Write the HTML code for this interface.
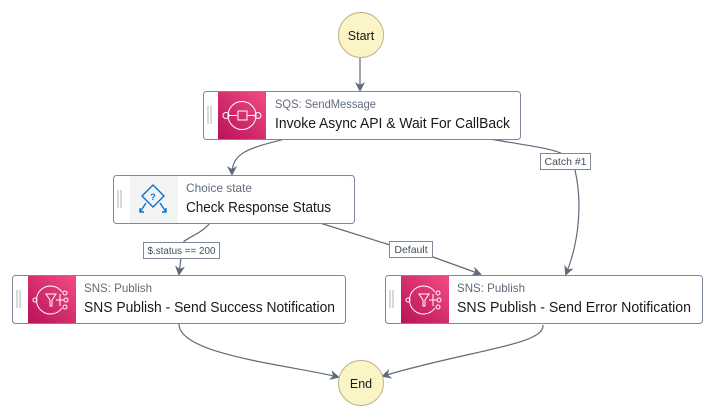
<!DOCTYPE html>
<html><head><meta charset="utf-8"><style>
html,body{margin:0;padding:0;background:#fff;}
svg{display:block;font-family:"Liberation Sans",sans-serif;}
</style></head><body>
<svg width="714" height="416" viewBox="0 0 714 416">
<defs>
<linearGradient id="pk" x1="0" y1="1" x2="1" y2="0">
<stop offset="0" stop-color="#b8125a"/><stop offset="1" stop-color="#f34b82"/>
</linearGradient>
<marker id="ar" markerWidth="10" markerHeight="10" refX="8" refY="5" orient="auto" markerUnits="userSpaceOnUse">
<path d="M0,0 L10,5 L0,10 L3,5 Z" fill="#5f6b7a"/>
</marker>
</defs>
<g fill="none" stroke="#5f6b7a" stroke-width="1.2">
<path d="M360,58 L360,90" marker-end="url(#ar)"/>
<path d="M285,139 C250,148 232,152 232,174" marker-end="url(#ar)"/>
<path d="M490,139 C530,146 550,148 563,154 M575,170 C582,200 580,240 566,274" marker-end="url(#ar)"/>
<path d="M210,223 C200,235 185,238 183,243 M181,258 L179,274" marker-end="url(#ar)"/>
<path d="M320,223 L390,245 M433,257 L480,274" marker-end="url(#ar)"/>
<path d="M179,324 C179,355 290,365 338,377" marker-end="url(#ar)"/>
<path d="M543,325 C545,345 470,350 383,376" marker-end="url(#ar)"/>
</g>
<circle cx="361" cy="35" r="22.5" fill="#fbf4c6" stroke="#bfb38a"/>
<text x="361" y="40" font-size="12.5" text-anchor="middle" fill="#16191f">Start</text>
<circle cx="361" cy="383" r="22.5" fill="#fbf4c6" stroke="#bfb38a"/>
<text x="361" y="388" font-size="12.5" text-anchor="middle" fill="#16191f">End</text>

<rect x="203.5" y="91.5" width="317" height="48" rx="3" fill="#fff" stroke="#7d8998"/>
<line x1="208" y1="106" x2="208" y2="124" stroke="#aab7b8"/><line x1="211" y1="106" x2="211" y2="124" stroke="#aab7b8"/>
<rect x="218" y="92" width="48" height="47" fill="url(#pk)"/>
<g stroke="#fff" fill="none" stroke-width="1"><circle cx="242" cy="115.5" r="14"/><circle cx="226" cy="115.5" r="3"/><circle cx="258" cy="115.5" r="3"/><rect x="238" y="111" width="9" height="9"/><path d="M229,115.5h8M247,115.5h8"/></g>
<text x="275" y="108" font-size="12" fill="#5f6b7a" textLength="101" lengthAdjust="spacingAndGlyphs">SQS: SendMessage</text>
<text x="275" y="128" font-size="14.5" fill="#16191f" textLength="235" lengthAdjust="spacingAndGlyphs">Invoke Async API &amp; Wait For CallBack</text>

<rect x="113.5" y="175.5" width="241" height="48" rx="3" fill="#fff" stroke="#7d8998"/>
<line x1="118" y1="190" x2="118" y2="208" stroke="#aab7b8"/><line x1="121" y1="190" x2="121" y2="208" stroke="#aab7b8"/>
<rect x="130" y="176" width="48" height="47" fill="#f2f3f3"/>
<g stroke="#0972d3" fill="none" stroke-width="1.4"><path d="M153,185 L164,196 L153,207 L142,196 Z"/><path d="M146,203 L140,212 M140,208 v4 h4 M160,203 L166,212 M166,208 v4 h-4"/></g>
<text x="153" y="200" font-size="9" text-anchor="middle" fill="#0972d3" font-weight="bold">?</text>
<text x="186" y="192" font-size="12" fill="#5f6b7a" textLength="66" lengthAdjust="spacingAndGlyphs">Choice state</text>
<text x="186" y="212" font-size="14.5" fill="#16191f" textLength="145" lengthAdjust="spacingAndGlyphs">Check Response Status</text>

<rect x="12.5" y="275.5" width="333" height="48" rx="3" fill="#fff" stroke="#7d8998"/>
<line x1="17" y1="290" x2="17" y2="308" stroke="#aab7b8"/><line x1="20" y1="290" x2="20" y2="308" stroke="#aab7b8"/>
<rect x="28" y="276" width="48" height="47" fill="url(#pk)"/>
<g stroke="#fff" fill="none" stroke-width="1"><path d="M62,292 A14,14 0 1 0 62,308"/><path d="M46,294 h10 l-4,6 v6 h-2 v-6 z"/><path d="M56,300 h8 M60,294 v12"/><circle cx="65" cy="293" r="2"/><circle cx="66" cy="300" r="2"/><circle cx="65" cy="307" r="2"/><circle cx="35" cy="300" r="2"/></g>
<text x="84" y="292" font-size="12" fill="#5f6b7a" textLength="68" lengthAdjust="spacingAndGlyphs">SNS: Publish</text>
<text x="84" y="312" font-size="14.5" fill="#16191f" textLength="251" lengthAdjust="spacingAndGlyphs">SNS Publish - Send Success Notification</text>

<rect x="385.5" y="275.5" width="317" height="48" rx="3" fill="#fff" stroke="#7d8998"/>
<line x1="390" y1="290" x2="390" y2="308" stroke="#aab7b8"/><line x1="393" y1="290" x2="393" y2="308" stroke="#aab7b8"/>
<rect x="401" y="276" width="48" height="47" fill="url(#pk)"/>
<g stroke="#fff" fill="none" stroke-width="1"><path d="M435,292 A14,14 0 1 0 435,308"/><path d="M419,294 h10 l-4,6 v6 h-2 v-6 z"/><path d="M429,300 h8 M433,294 v12"/><circle cx="438" cy="293" r="2"/><circle cx="439" cy="300" r="2"/><circle cx="438" cy="307" r="2"/><circle cx="408" cy="300" r="2"/></g>
<text x="457" y="292" font-size="12" fill="#5f6b7a" textLength="68" lengthAdjust="spacingAndGlyphs">SNS: Publish</text>
<text x="457" y="312" font-size="14.5" fill="#16191f" textLength="234" lengthAdjust="spacingAndGlyphs">SNS Publish - Send Error Notification</text>

<g font-size="10.5" fill="#414d5c">
<rect x="540.5" y="153.5" width="50" height="16" fill="#fff" stroke="#7d8998"/>
<text x="565.5" y="165" text-anchor="middle">Catch #1</text>
<rect x="143.5" y="242.5" width="76" height="16" fill="#fff" stroke="#7d8998"/>
<text x="181.5" y="254" text-anchor="middle" textLength="68" lengthAdjust="spacingAndGlyphs">$.status == 200</text>
<rect x="389.5" y="241.5" width="43" height="16" fill="#fff" stroke="#7d8998"/>
<text x="411" y="253" text-anchor="middle">Default</text>
</g>
</svg>
</body></html>
